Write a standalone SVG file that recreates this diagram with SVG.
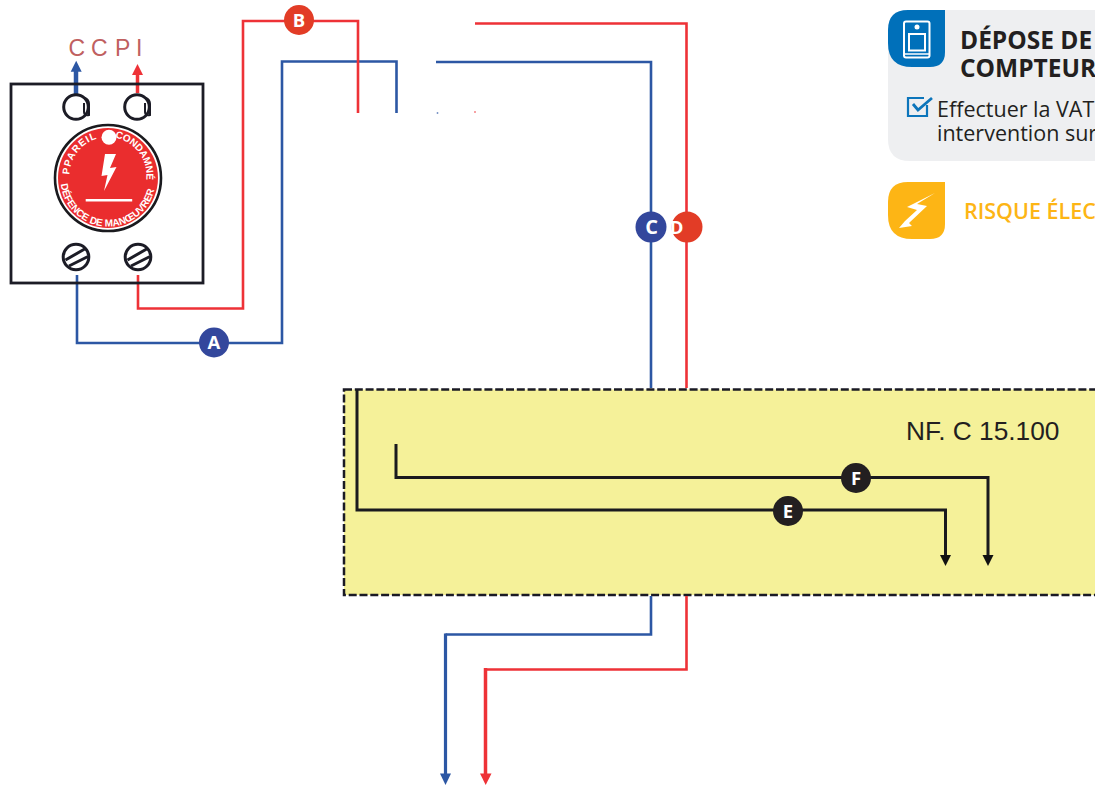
<svg xmlns="http://www.w3.org/2000/svg" width="1095" height="785" viewBox="0 0 1095 785">
<style>
.w{fill:none;stroke-linejoin:miter}
.bl{stroke:#2c57a4;stroke-width:2.600}
.rd{stroke:#ee3237;stroke-width:2.600}
.bk{stroke:#1a1a1e;stroke-width:3}
.bt{font:bold 18.500px "Open Sans","Liberation Sans",sans-serif;fill:#fff;text-anchor:middle}
.dk{stroke:#1c1c26;fill:#fff;stroke-width:3}
.hook{fill:none;stroke:#1c1c26;stroke-width:2}
.st{stroke:#1c1c26;stroke-width:3}
.h{font:bold 24.500px "Open Sans","Liberation Sans",sans-serif;fill:#231f20}
.p{font:21.500px "Open Sans","Liberation Sans",sans-serif;fill:#231f20}
.ring{font:bold 10px "Liberation Sans",sans-serif;fill:#fff}
</style>
<defs>
<path id="arcTop" d="M70.600 184.700A38.500 38.500 0 1 1 145.400 184.700"/>
<path id="arcBot" d="M60.700 183.100A47.500 47.500 0 0 0 154.500 188.900"/>
</defs>
<g id="panel">
<path d="M1095 10H908Q888 10 888 30V139Q888 161 910 161H1095Z" fill="#eeeff1"/>
<path d="M945 10V52Q945 67 930 67H912Q888 67 888 43V30Q888 10 908 10Z" fill="#0070ba"/>
<rect x="904" y="21.500" width="25.500" height="36" rx="2" fill="none" stroke="#fff" stroke-width="2"/>
<rect x="909" y="34" width="16" height="16.500" fill="none" stroke="#fff" stroke-width="2"/>
<path d="M905 54H929" stroke="#fff" stroke-width="1.500"/>
<circle cx="917" cy="27" r="2.500" fill="#fff"/>
<text class="h" x="960" y="48.500">DÉPOSE DE</text>
<text class="h" x="960" y="77">COMPTEUR</text>
<path d="M927 105V116H908V98H924" fill="none" stroke="#0c75bb" stroke-width="2.200"/>
<path d="M913 104L918 110L932 98" fill="none" stroke="#0c75bb" stroke-width="2.800"/>
<text class="p" x="937" y="117">Effectuer la VAT</text>
<text class="p" x="937" y="141">intervention sur</text>
<path d="M945 182V224Q945 239 930 239H912Q888 239 888 215V202Q888 182 908 182Z" fill="#fdb515"/>
<path d="M935 193L907 207L917 210L905 221L899 228L912 226L909 223L927 206L917 204Z" fill="#fff"/>
<text x="964" y="219" font-family="Open Sans, Liberation Sans, sans-serif" font-weight="600" font-size="21.500" fill="#fdb515">RISQUE ÉLEC</text>
</g>
<g id="zone">
<rect x="344" y="389.500" width="800" height="205.500" fill="#f5f199" stroke="#1a1a24" stroke-width="2.500" stroke-dasharray="8 2.800"/>
<text x="906" y="440" font-family="Liberation Sans, Arial, sans-serif" font-size="26.300" fill="#231f20">NF. C 15.100</text>
</g>
<g id="connectors">
<path class="w bl" d="M77 275V343H282V61.500H396.500V113"/>
<path class="w rd" d="M138 275V308.500H243V21H358V113"/>
<path class="w rd" d="M475 23.500H686.500V388"/>
<path class="w bl" d="M436 62H651V388"/>
<path d="M437.500 112v2" stroke="#2c57a4" stroke-width="1.500" opacity=".6"/>
<path d="M475 111v2" stroke="#ee3237" stroke-width="1.500" opacity=".6"/>
<path class="w bk" d="M357 390V510H945.500V556"/>
<path d="M940 555H951L945.500 566Z" fill="#111"/>
<path class="w bk" d="M396 444V477.500H988V556"/>
<path d="M982.500 555H993.500L988 566Z" fill="#111"/>
<path class="w bl" d="M651 596V634.500H445.500"/>
<path class="w bl" d="M445.500 633.500V775" style="stroke-width:3.200"/>
<path d="M440 773.500H451L445.500 785Z" fill="#2c57a4"/>
<path class="w rd" d="M686.500 596V669.500H485.500"/>
<path class="w rd" d="M485.500 668V775" style="stroke-width:3.500"/>
<path d="M480 773.500H491.500L485.700 785Z" fill="#ee3237"/>
<path d="M76 71V95" stroke="#2c57a4" stroke-width="4.500" fill="none"/>
<path d="M70.700 71.700H81.700L76.200 60.700Z" fill="#2c57a4"/>
<path d="M137.500 74V93" stroke="#ee3237" stroke-width="3.500" fill="none"/>
<path d="M132 75H143L137.500 64Z" fill="#ee3237"/>
</g>
<g id="ccpi"><text x="68.500 91 115 136" y="56" font-family="Liberation Sans, Arial, sans-serif" font-size="23" fill="#c0605f">CCPI</text></g>
<g id="device">
<rect x="11" y="84" width="192" height="199" fill="none" stroke="#1c1c26" stroke-width="2.800"/>
<circle class="dk" cx="76" cy="107" r="12.300"/>
<path class="hook" d="M84 103V112Q84 116 89 115V104Q89 100 85 98"/>
<circle class="dk" cx="137" cy="107" r="12.300"/>
<path class="hook" d="M145 103V112Q145 116 150 115V104Q150 100 146 98"/>
<circle class="dk" cx="76" cy="257" r="12.800"/>
<path class="st" d="M65.500 260L85.500 248.500M69 266L88 256.500"/>
<circle class="dk" cx="138" cy="257" r="12.800"/>
<path class="st" d="M127.500 260L147.500 248.500M131 266L150 256.500"/>
</g>
<g id="disc">
<circle cx="108" cy="178" r="53" fill="#fff" stroke="#1a1a1e" stroke-width="2.600"/>
<circle cx="108" cy="178" r="50" fill="#ea2d2e"/>
<circle cx="109" cy="137.300" r="7.500" fill="#fff"/>
<path d="M105 154L116 154L110 168L116.500 167L104 191L107.500 175L101.500 176Z" fill="#fff"/>
<rect x="85.700" y="199" width="46.500" height="2.500" fill="#fff"/>
<text class="ring" letter-spacing=".9"><textPath href="#arcTop" startOffset="10">PPAREIL</textPath></text>
<text class="ring" letter-spacing="-.2"><textPath href="#arcTop" startOffset="76.600">CONDAMNÉ</textPath></text>
<text class="ring" letter-spacing="-.1"><textPath href="#arcBot" startOffset="1">DÉFENCE DE MANŒUVRER</textPath></text>
</g>
<g id="badge-A"><circle cx="214" cy="342.500" r="15" fill="#33479c"/><text class="bt" x="214" y="349">A</text></g>
<g id="badge-B"><circle cx="299" cy="20" r="15" fill="#e23c26"/><text class="bt" x="299" y="26.500">B</text></g>
<g id="badge-D"><circle cx="687" cy="227" r="15.500" fill="#e23c26"/><text class="bt" x="676.500" y="233.500">D</text></g>
<g id="badge-C"><circle cx="651" cy="227" r="15.500" fill="#33479c"/><text class="bt" x="651.500" y="234" style="font-size:20px">C</text></g>
<g id="badge-E"><circle cx="788" cy="511" r="15" fill="#231f20"/><text class="bt" x="788" y="517.500">E</text></g>
<g id="badge-F"><circle cx="856" cy="478" r="15" fill="#231f20"/><text class="bt" x="856" y="484.500">F</text></g>
</svg>
